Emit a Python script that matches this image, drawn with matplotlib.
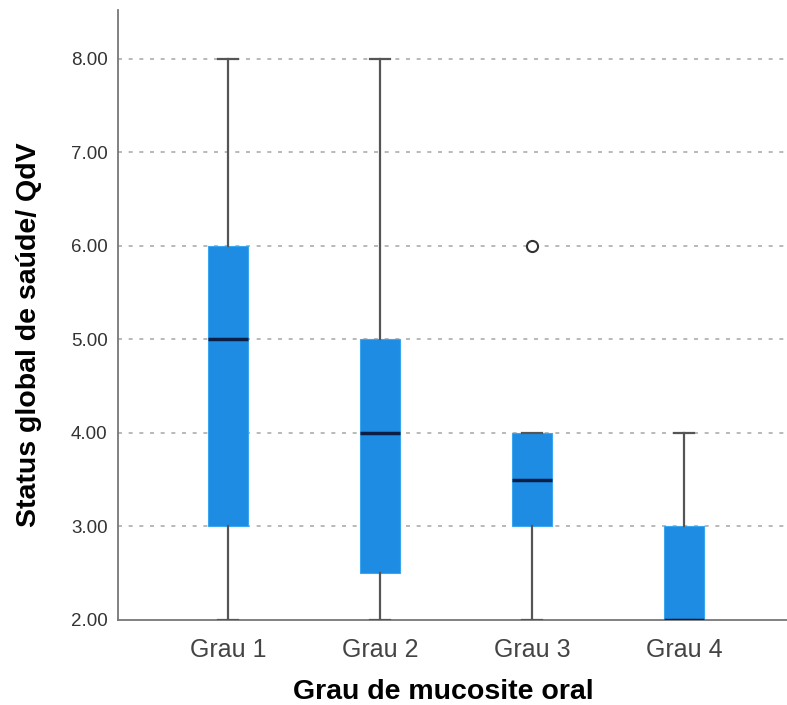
import matplotlib
matplotlib.use("Agg")
import matplotlib.pyplot as plt

categories = ["Grau 1", "Grau 2", "Grau 3", "Grau 4"]
whisker_low = [2.0, 2.0, 2.0, 2.0]
q1 = [3.0, 2.5, 3.0, 2.0]
median = [5.0, 4.0, 3.5, 2.0]
q3 = [6.0, 5.0, 4.0, 3.0]
whisker_high = [8.0, 8.0, 4.0, 4.0]
outliers = [[], [], [6.0], []]
yticks = [2.0, 3.0, 4.0, 5.0, 6.0, 7.0, 8.0]

plt.rcParams['font.family'] = ['Liberation Sans', 'DejaVu Sans']

fig = plt.figure(figsize=(7.87, 7.05), dpi=100)
ax = fig.add_axes([118/787, 85/705, 1 - 118/787, 610/705])

stats = []
for i, c in enumerate(categories):
    stats.append(dict(label=c, whislo=whisker_low[i], q1=q1[i], med=median[i],
                      q3=q3[i], whishi=whisker_high[i], fliers=outliers[i]))

for y in yticks[1:]:
    ax.axhline(y, color='#adadad', lw=1.2, ls=(0, (2.4, 4.0)), zorder=0)

ax.bxp(stats, positions=range(1, len(categories) + 1), widths=0.26,
       patch_artist=True, showfliers=True,
       boxprops=dict(facecolor='#1e8ce3', edgecolor='#3aa6f0', lw=0.8),
       medianprops=dict(color='#0b1e44', lw=2.5),
       whiskerprops=dict(color='#555555', lw=1.6),
       capprops=dict(color='#555555', lw=1.6),
       capwidths=0.13,
       flierprops=dict(marker='o', markerfacecolor='white', markeredgecolor='#333333',
                       markersize=8, markeredgewidth=1.5),
       zorder=3)

ax.set_xlim(0.276, 4.678)
ax.set_ylim(2.0, 8.524)
ax.set_yticks(yticks)
ax.set_yticklabels([f"{v:.2f}" for v in yticks], fontsize=13.5, color='#333333')
ax.set_xticklabels(categories, fontsize=18, color='#444444')
ax.tick_params(axis='both', length=0)
ax.tick_params(axis='x', pad=13)
ax.tick_params(axis='y', pad=7.5)

for s in ['top', 'right']:
    ax.spines[s].set_visible(False)
ax.spines['left'].set_color('#777777')
ax.spines['bottom'].set_color('#777777')
ax.spines['left'].set_linewidth(1.3)
ax.spines['bottom'].set_linewidth(1.3)

ax.set_xlabel("Grau de mucosite oral", fontsize=20.5, fontweight='bold')
ax.set_ylabel("Status global de saúde/ QdV", fontsize=20.5, fontweight='bold')
ax.xaxis.set_label_coords((443 - 118) / 669, (620 - 679) / 610)
ax.yaxis.set_label_coords((42 - 118) / 669, (620 - 334.5) / 610)

fig.savefig("out.png", dpi=100)
